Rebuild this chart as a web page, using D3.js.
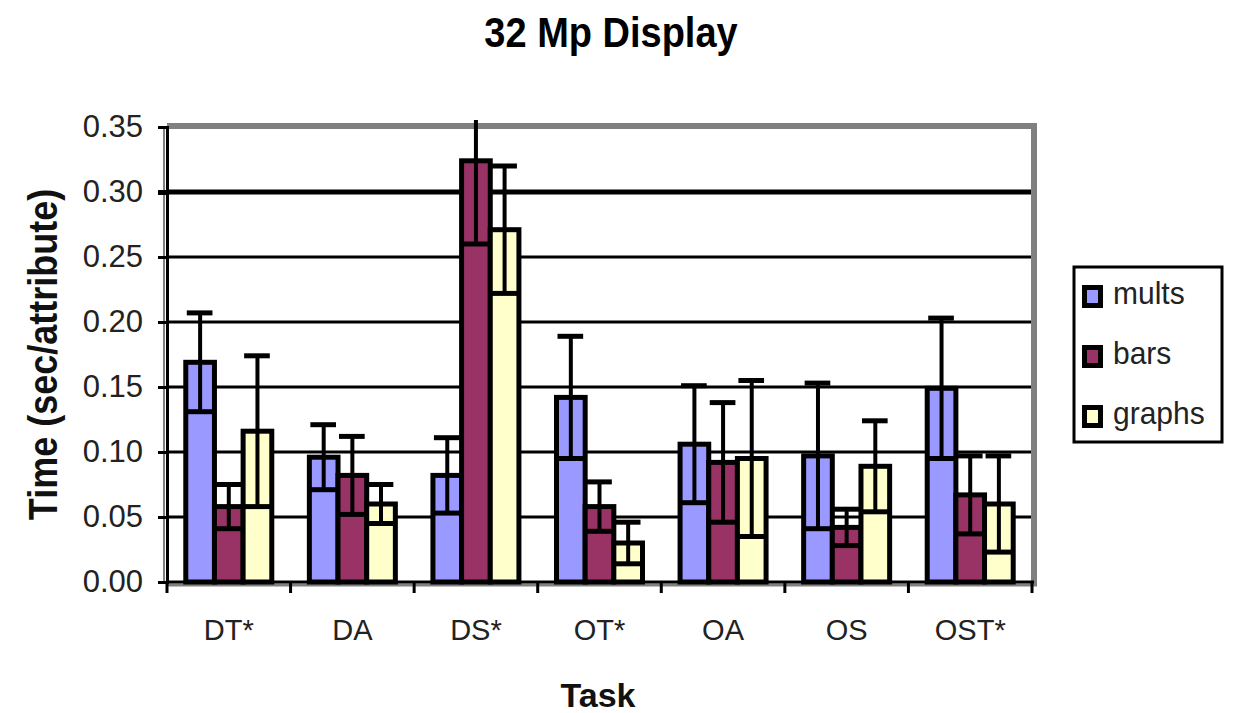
<!DOCTYPE html>
<html>
<head>
<meta charset="utf-8">
<script src="https://cdn.jsdelivr.net/npm/d3@7"></script>
<style>
  html, body { margin: 0; padding: 0; background: #fff; }
  svg { display: block; }
  text { font-family: "Liberation Sans", Arial, sans-serif; }
</style>
</head>
<body>
<svg id="chart" width="1235" height="713"></svg>
<script>
// ---- data ----
const categories = ["DT*", "DA", "DS*", "OT*", "OA", "OS", "OST*"];
const series = ["mults", "bars", "graphs"];
const mults     = [0.169, 0.096, 0.082, 0.142, 0.106, 0.097, 0.149];
const multsErr  = [0.038, 0.025, 0.029, 0.047, 0.045, 0.056, 0.054];
const bars      = [0.058, 0.082, 0.324, 0.058, 0.092, 0.042, 0.067];
const barsErr   = [0.017, 0.030, 0.064, 0.019, 0.046, 0.014, 0.030];
const graphs    = [0.116, 0.060, 0.271, 0.030, 0.095, 0.089, 0.060];
const graphsErr = [0.058, 0.015, 0.049, 0.016, 0.060, 0.035, 0.037];
const yTicks = [0.00, 0.05, 0.10, 0.15, 0.20, 0.25, 0.30, 0.35];
const colors = { mults: "#9999FF", bars: "#993366", graphs: "#FFFFCC" };

const seriesData = [
  { name: "mults", values: mults, errs: multsErr },
  { name: "bars", values: bars, errs: barsErr },
  { name: "graphs", values: graphs, errs: graphsErr }
];

// ---- layout ----
const svg = d3.select("#chart");
const pLeft = 167, pRight = 1032, pTop = 127, pBottom = 582;
const x0 = d3.scaleBand().domain(categories).range([pLeft, pRight]);
const groupW = 86;
const x1 = d3.scaleBand().domain(series).range([0, groupW]);
const y = d3.scaleLinear().domain([0, 0.35]).range([pBottom, pTop]);
const bw = x1.bandwidth();
const gx = c => x0(c) + (x0.bandwidth() - groupW) / 2;

// title
svg.append("text")
  .attr("transform", "translate(611,47) scale(1,1.1)")
  .attr("text-anchor", "middle")
  .attr("font-size", 38).attr("font-weight", "bold").attr("fill", "#000")
  .text("32 Mp Display");

// plot frame (grey)
svg.append("rect").attr("x", pLeft).attr("y", pTop - 4).attr("width", pRight - pLeft + 5).attr("height", 6).attr("fill", "#808080");
svg.append("rect").attr("x", pRight - 1).attr("y", pTop - 4).attr("width", 6).attr("height", pBottom - pTop + 8).attr("fill", "#808080");
svg.append("line").attr("x1", pLeft).attr("x2", pRight + 5).attr("y1", pBottom + 3).attr("y2", pBottom + 3).attr("stroke", "#808080").attr("stroke-width", 3);
svg.append("line").attr("x1", pLeft - 3).attr("x2", pLeft - 3).attr("y1", pTop).attr("y2", pBottom).attr("stroke", "#808080").attr("stroke-width", 2);

// gridlines
svg.append("g").selectAll("line")
  .data(yTicks.filter(t => t > 0 && t < 0.35))
  .join("line")
  .attr("x1", pLeft).attr("x2", pRight - 1)
  .attr("y1", d => y(d)).attr("y2", d => y(d))
  .attr("stroke", "#000")
  .attr("stroke-width", d => Math.abs(d - 0.30) < 1e-9 ? 5 : 3);

// left axis
const yAxis = svg.append("g").attr("transform", `translate(${pLeft},0)`)
  .call(d3.axisLeft(y).tickValues(yTicks).tickFormat(d3.format(".2f")).tickSize(9).tickPadding(15));
yAxis.select(".domain").attr("stroke", "#000").attr("stroke-width", 3);
yAxis.selectAll(".tick line").attr("stroke", "#000").attr("stroke-width", d => Math.abs(d - 0.30) < 1e-9 ? 5 : 3);
yAxis.selectAll(".tick text").attr("font-size", 31).attr("fill", "#222")
  .attr("font-family", "Liberation Sans, Arial, sans-serif");

// bars + error bars
seriesData.forEach(s => {
  const pts = categories.map((c, i) => ({ c, v: s.values[i], e: s.errs[i] }));
  const g = svg.append("g");
  g.selectAll("rect")
    .data(pts)
    .join("rect")
    .attr("x", d => gx(d.c) + x1(s.name))
    .attr("y", d => y(d.v))
    .attr("width", bw)
    .attr("height", d => y(0) - y(d.v))
    .attr("fill", colors[s.name])
    .attr("stroke", "#000")
    .attr("stroke-width", 5);
  const eg = svg.append("g");
  const cx = d => gx(d.c) + x1(s.name) + bw / 2;
  const yTop = d => Math.max(y(d.v + d.e), pTop - 7);
  eg.selectAll("line.stem").data(pts).join("line").attr("class", "stem")
    .attr("x1", cx).attr("x2", cx)
    .attr("y1", d => y(d.v - d.e)).attr("y2", yTop)
    .attr("stroke", "#000").attr("stroke-width", 4);
  eg.selectAll("line.capTop").data(pts.filter(d => y(d.v + d.e) >= pTop - 7)).join("line").attr("class", "capTop")
    .attr("x1", d => cx(d) - bw / 2 + 1).attr("x2", d => cx(d) + bw / 2 - 2)
    .attr("y1", d => y(d.v + d.e)).attr("y2", d => y(d.v + d.e))
    .attr("stroke", "#000").attr("stroke-width", 5);
  eg.selectAll("line.capBot").data(pts).join("line").attr("class", "capBot")
    .attr("x1", d => cx(d) - bw / 2 + 1).attr("x2", d => cx(d) + bw / 2 - 1)
    .attr("y1", d => y(d.v - d.e)).attr("y2", d => y(d.v - d.e))
    .attr("stroke", "#000").attr("stroke-width", 5);
});

// bottom axis
svg.append("line").attr("x1", pLeft - 1).attr("x2", pRight + 2).attr("y1", pBottom).attr("y2", pBottom)
  .attr("stroke", "#000").attr("stroke-width", 3);
const bounds = categories.map(c => x0(c)).concat([x0(categories[categories.length - 1]) + x0.bandwidth()]);
svg.append("g").selectAll("line").data(bounds).join("line")
  .attr("x1", d => d).attr("x2", d => d).attr("y1", pBottom).attr("y2", pBottom + 11)
  .attr("stroke", "#000").attr("stroke-width", 3);
const xAxis = svg.append("g").attr("transform", `translate(0,${pBottom})`)
  .call(d3.axisBottom(x0).tickSize(0).tickPadding(35));
xAxis.select(".domain").remove();
xAxis.selectAll(".tick text").attr("font-size", 29).attr("fill", "#222")
  .attr("font-family", "Liberation Sans, Arial, sans-serif")
  .attr("dy", "0.78em");

// axis titles
svg.append("text")
  .attr("transform", "translate(598,707)")
  .attr("text-anchor", "middle")
  .attr("font-size", 34).attr("font-weight", "bold").attr("fill", "#111")
  .text("Task");
svg.append("text")
  .attr("transform", `translate(57,${(pTop + pBottom) / 2}) rotate(-90) scale(1,1.15)`)
  .attr("text-anchor", "middle")
  .attr("font-size", 36).attr("font-weight", "bold").attr("fill", "#111")
  .text("Time (sec/attribute)");

// legend
const lg = svg.append("g");
lg.append("rect").attr("x", 1074).attr("y", 267).attr("width", 148).attr("height", 175)
  .attr("fill", "#fff").attr("stroke", "#000").attr("stroke-width", 3);
const li = lg.selectAll("g.item").data(series).join("g").attr("class", "item")
  .attr("transform", (d, i) => `translate(0,${i * 60})`);
li.append("rect").attr("x", 1084.5).attr("y", 287.5).attr("width", 16).attr("height", 18)
  .attr("fill", d => colors[d]).attr("stroke", "#000").attr("stroke-width", 5);
li.append("text").attr("transform", "translate(1113,304) scale(1,1.05)")
  .attr("font-size", 30).attr("fill", "#222").text(d => d);
</script>
</body>
</html>
